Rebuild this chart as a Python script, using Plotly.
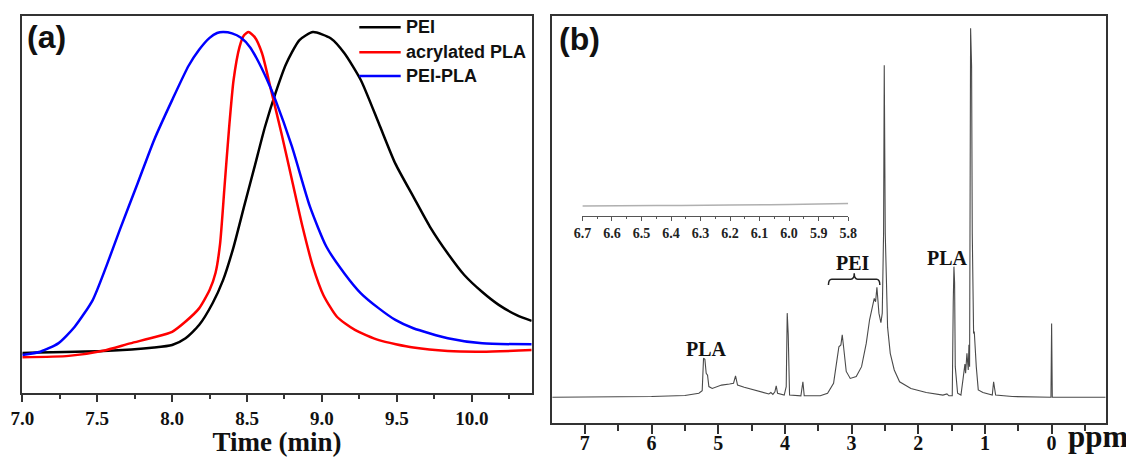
import plotly.graph_objects as go

# ---------------- Panel (a): GPC traces ----------------
pei_time = [7.0, 7.54, 7.88, 8.0, 8.09, 8.18, 8.27, 8.34, 8.41, 8.48, 8.55, 8.62, 8.69, 8.76,
            8.85, 8.94, 9.06, 9.15, 9.26, 9.38, 9.49, 9.61, 9.72, 9.84, 9.95, 10.07, 10.18, 10.30, 10.40]
pei_signal = [0.0, 0.006, 0.017, 0.025, 0.046, 0.087, 0.155, 0.227, 0.33, 0.456, 0.58, 0.705, 0.81, 0.90,
              0.975, 1.0, 0.98, 0.934, 0.85, 0.715, 0.59, 0.487, 0.394, 0.31, 0.243, 0.19, 0.15, 0.118, 0.10]

pla_time = [7.0, 7.31, 7.54, 7.72, 7.88, 8.0, 8.09, 8.18, 8.25, 8.29, 8.32, 8.35, 8.38, 8.41, 8.45, 8.48,
            8.51, 8.55, 8.60, 8.66, 8.73, 8.80, 8.87, 8.94, 9.01, 9.10, 9.22, 9.38, 9.61, 9.84, 10.07, 10.40]
pla_signal = [-0.0135, -0.009, 0.007, 0.03, 0.049, 0.066, 0.098, 0.139, 0.196, 0.25, 0.34, 0.52, 0.70, 0.85, 0.954, 0.99,
              1.0, 0.985, 0.934, 0.82, 0.684, 0.539, 0.394, 0.269, 0.18, 0.113, 0.072, 0.04, 0.017, 0.006, 0.004, 0.009]

peipla_time = [7.0, 7.12, 7.24, 7.35, 7.47, 7.56, 7.65, 7.77, 7.88, 8.0, 8.11, 8.18, 8.25, 8.30, 8.34, 8.40,
               8.46, 8.52, 8.57, 8.63, 8.69, 8.80, 8.92, 9.03, 9.15, 9.26, 9.38, 9.49, 9.61, 9.84, 10.07, 10.40]
peipla_signal = [-0.006, 0.004, 0.03, 0.082, 0.165, 0.269, 0.383, 0.529, 0.664, 0.788, 0.895, 0.945, 0.982, 0.997, 1.0, 0.996,
                 0.982, 0.953, 0.913, 0.855, 0.788, 0.643, 0.456, 0.331, 0.248, 0.186, 0.139, 0.103, 0.077, 0.046, 0.03, 0.027]

gpc_names = ["PEI", "acrylated PLA", "PEI-PLA"]
gpc_colors = ["#000000", "#ff0000", "#0000ff"]

# ---------------- Panel (b): 1H NMR spectrum ----------------
nmr_ppm = [7.49, 6.0, 5.5, 5.29, 5.24, 5.22, 5.20, 5.18, 5.16, 5.14, 5.09, 4.95, 4.83, 4.77, 4.74, 4.71,
           4.61, 4.38, 4.24, 4.21, 4.18, 4.15, 4.13, 4.11, 4.01, 3.98, 3.965, 3.95, 3.93, 3.76, 3.73, 3.71,
           3.47, 3.36, 3.27, 3.22, 3.19, 3.16, 3.14, 3.12, 3.08, 3.02, 2.93, 2.85, 2.78, 2.73, 2.69, 2.66,
           2.64, 2.62, 2.59, 2.56, 2.54, 2.52, 2.51, 2.495, 2.46, 2.42, 2.36, 2.28, 2.11, 1.88, 1.63, 1.57,
           1.54, 1.49, 1.475, 1.465, 1.455, 1.445, 1.41, 1.36, 1.33, 1.30, 1.29, 1.27, 1.25, 1.24, 1.23,
           1.215, 1.20, 1.19, 1.17, 1.16, 1.13, 1.10, 1.03, 0.89, 0.87, 0.84, 0.59, 0.01, 0.0, -0.01, -0.81]
nmr_intensity = [0.0, 0.002, 0.005, 0.011, 0.018, 0.106, 0.103, 0.065, 0.06, 0.029, 0.024, 0.033, 0.036, 0.038, 0.058, 0.033,
                 0.027, 0.015, 0.009, 0.013, 0.008, 0.015, 0.031, 0.011, 0.006, 0.029, 0.228, 0.17, 0.006, 0.004, 0.042, 0.004,
                 0.004, 0.011, 0.038, 0.10, 0.137, 0.142, 0.169, 0.137, 0.07, 0.051, 0.056, 0.083, 0.146, 0.21, 0.246, 0.268,
                 0.259, 0.298, 0.228, 0.202, 0.228, 0.445, 0.90, 0.445, 0.19, 0.119, 0.074, 0.042, 0.024, 0.013, 0.006, 0.009,
                 0.004, 0.004, 0.26, 0.354, 0.31, 0.083, 0.011, 0.006, 0.047, 0.09, 0.065, 0.119, 0.074, 0.142, 0.083,
                 1.0, 0.896, 0.443, 0.173, 0.178, 0.083, 0.02, 0.013, 0.006, 0.042, 0.006, 0.002, 0.0, 0.20, 0.0, 0.0]

inset_ppm = [6.7, 6.45, 6.2, 6.0, 5.8]
inset_intensity = [0.50, 0.52, 0.55, 0.58, 0.63]

nmr_labels = ["PLA", "PEI", "PLA"]
nmr_label_ppm = [5.17, 2.98, 1.555]
nmr_label_int = [0.130, 0.363, 0.378]

# PEI brace span (ppm) and heights (intensity)
brace_left, brace_mid, brace_right = 3.347, 2.96, 2.576
brace_end_y, brace_bar_y, brace_tip_y = 0.304, 0.320, 0.336

# page body has an 8px margin: figure is sized to fill the rest of the window
OFF = 8
W, H = 1134 - OFF, 457 - OFF
SERIF = "Liberation Serif"
SANS = "Liberation Sans"


def px(x):
    return (x - OFF) / W


def py(y):
    return 1 - (y - OFF) / H


fig = go.Figure()

for t, s, n, c in zip([pei_time, pla_time, peipla_time],
                      [pei_signal, pla_signal, peipla_signal], gpc_names, gpc_colors):
    fig.add_trace(go.Scatter(x=t, y=s, name=n, mode="lines",
                             line=dict(color=c, width=2.5, shape="spline", smoothing=0.6),
                             xaxis="x", yaxis="y", showlegend=False))

fig.add_trace(go.Scatter(x=nmr_ppm, y=nmr_intensity, mode="lines", name="1H NMR",
                         line=dict(color="#4a4a4a", width=1.1), xaxis="x2", yaxis="y2", showlegend=False))
fig.add_trace(go.Scatter(x=inset_ppm, y=inset_intensity, mode="lines", name="inset",
                         line=dict(color="#b0b0b0", width=1.5, shape="spline"), xaxis="x3", yaxis="y3",
                         showlegend=False))

axis_common = dict(showgrid=False, zeroline=False, automargin=False)

fig.update_layout(
    width=W, height=H,
    margin=dict(l=0, r=0, t=0, b=0),
    paper_bgcolor="white", plot_bgcolor="white",
    xaxis=dict(**axis_common, domain=[px(22.3), px(531.7)], range=[7.0, 10.4], anchor="y",
               tickmode="linear", tick0=7.0, dtick=0.5, tickformat=".1f",
               ticks="outside", ticklen=7, tickwidth=1.5, tickcolor="#333",
               minor=dict(dtick=0.25, tick0=7.0, ticks="outside", ticklen=4, tickwidth=1.5, tickcolor="#333"),
               showline=True, linecolor="#333", linewidth=1.5, mirror=True,
               tickfont=dict(family=SERIF, size=19, color="#111", weight="bold"),
               title=dict(text="Time (min)", font=dict(family=SERIF, size=27, color="#111", weight="bold"),
                          standoff=2)),
    yaxis=dict(**axis_common, domain=[py(393.3), py(15.7)], range=[-0.1256, 1.051], anchor="x",
               showticklabels=False, ticks="", showline=True, linecolor="#333", linewidth=1.5, mirror=True),
    xaxis2=dict(**axis_common, domain=[px(552.3), px(1105.7)], range=[7.488, -0.811], anchor="y2",
                tickmode="linear", tick0=0, dtick=1,
                ticks="outside", ticklen=9, tickwidth=1.8, tickcolor="#333",
                minor=dict(dtick=0.5, tick0=0, ticks="outside", ticklen=6, tickwidth=1.8, tickcolor="#333"),
                showline=True, linecolor="#333", linewidth=2, mirror=True, ticklabelstandoff=-8,
                tickfont=dict(family=SERIF, size=20, color="#111", weight="bold")),
    yaxis2=dict(**axis_common, domain=[py(423.3), py(15.7)], range=[-0.0705, 1.034], anchor="x2",
                showticklabels=False, ticks="", showline=True, linecolor="#333", linewidth=2, mirror=True),
    xaxis3=dict(**axis_common, domain=[px(582.3), px(848.3)], range=[6.7005, 5.7995], anchor="y3",
                tickmode="linear", tick0=5.8, dtick=0.1, tickformat=".1f",
                ticks="outside", ticklen=4, tickwidth=1, tickcolor="#555",
                minor=dict(dtick=0.05, tick0=5.8, ticks="outside", ticklen=2, tickwidth=1, tickcolor="#555"),
                showline=True, linecolor="#555", linewidth=1,
                tickfont=dict(family=SERIF, size=14, color="#222", weight="bold")),
    yaxis3=dict(**axis_common, domain=[py(216), py(196)], range=[0, 1], anchor="x3", visible=False),
)

# panel labels
for lbl, lx, ly in [("(a)", 46.7, 37.5), ("(b)", 579, 39)]:
    fig.add_annotation(text=lbl, x=px(lx), y=py(ly), xref="paper", yref="paper", showarrow=False,
                       xanchor="center", yanchor="middle",
                       font=dict(family=SANS, size=32, color="#111", weight="bold"))

# legend for panel (a)
legend_rows = [27.3, 52.3, 76.0]
for n, c, ry in zip(gpc_names, gpc_colors, legend_rows):
    fig.add_shape(type="line", xref="paper", yref="paper", x0=px(359.3), x1=px(400.7), y0=py(ry), y1=py(ry),
                  line=dict(color=c, width=2.5))
    fig.add_annotation(text=n, x=px(404), y=py(ry), xref="paper", yref="paper", showarrow=False,
                       xanchor="left", yanchor="middle",
                       font=dict(family=SANS, size=18, color="#111", weight="bold"))

# ppm label
fig.add_annotation(text="ppm", x=px(1066), y=py(436), xref="paper", yref="paper", showarrow=False,
                   xanchor="left", yanchor="middle",
                   font=dict(family=SERIF, size=31, color="#111", weight="bold"))

# peak labels in panel (b)
for t, xv, yv in zip(nmr_labels, nmr_label_ppm, nmr_label_int):
    fig.add_annotation(text=t, x=xv, y=yv, xref="x2", yref="y2", showarrow=False,
                       xanchor="center", yanchor="middle",
                       font=dict(family=SERIF, size=20, color="#111", weight="bold"))

# brace over PEI region
bl, bm, br = brace_left, brace_mid, brace_right
e, b, tp = brace_end_y, brace_bar_y, brace_tip_y
brace_path = (f"M {bl},{e} Q {bl},{b} {bl-0.05},{b} L {bm+0.05},{b} Q {bm},{b} {bm},{tp} "
              f"Q {bm},{b} {bm-0.05},{b} L {br+0.05},{b} Q {br},{b} {br},{e}")
fig.add_shape(type="path", path=brace_path, xref="x2", yref="y2", line=dict(color="#222", width=1.5))

fig.write_html("out.html")
